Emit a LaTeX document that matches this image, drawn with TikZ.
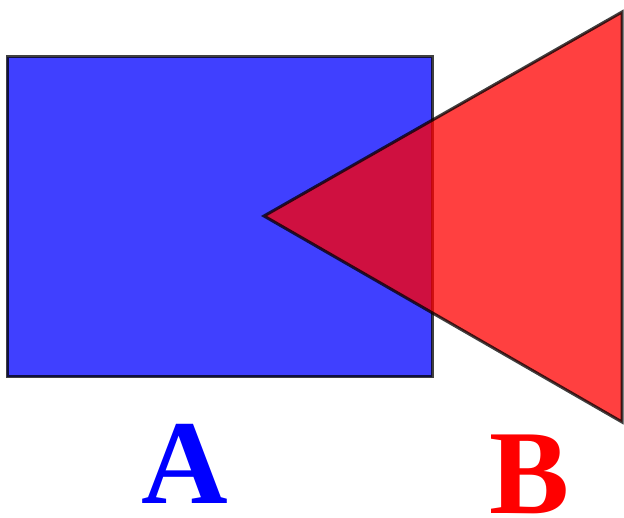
\documentclass[tikz,border=0pt]{standalone}
\usepackage{fontspec}
\setmainfont{Liberation Serif}
\tikzset{
  shapestyle/.style={draw=black, line width=3pt, line join=miter, opacity=0.75},
  lbl/.style={anchor=base, inner sep=0pt, font=\fontsize{120}{120}\selectfont\bfseries}
}
\begin{document}
\begin{tikzpicture}[x=1pt,y=1pt]
\useasboundingbox (0,0) rectangle (624,517);
\fill[white] (0,0) rectangle (624,517);
\draw[shapestyle, fill=blue] (7,140) rectangle (432,460);
\draw[shapestyle, fill=red] (264,301) -- (622,505) -- (622,95) -- cycle;
\node[lbl, text=blue] (A) at (185,13) {A};
\node[lbl, text=red] (B) at (530,4) {B};
\end{tikzpicture}
\end{document}
